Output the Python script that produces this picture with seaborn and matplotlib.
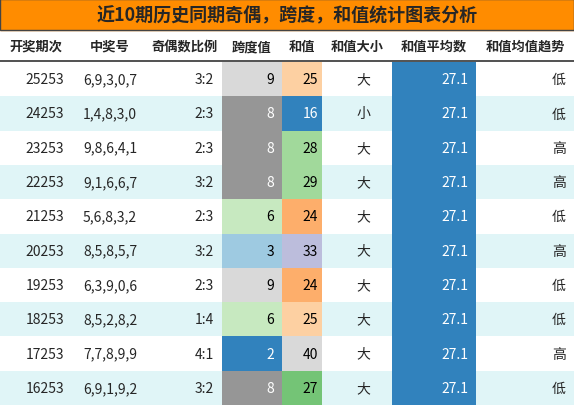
import matplotlib.pyplot as plt
import seaborn as sns
from matplotlib.patches import Rectangle

sns.set_theme(style="white")
plt.rcParams['font.family'] = ['Noto Sans CJK SC', 'DejaVu Sans']

# data
title = "近10期历史同期奇偶，跨度，和值统计图表分析"
headers = ["开奖期次", "中奖号", "奇偶数比例", "跨度值", "和值", "和值大小", "和值平均数", "和值均值趋势"]
issues = ["25253", "24253", "23253", "22253", "21253", "20253", "19253", "18253", "17253", "16253"]
numbers = ["6,9,3,0,7", "1,4,8,3,0", "9,8,6,4,1", "9,1,6,6,7", "5,6,8,3,2",
           "8,5,8,5,7", "6,3,9,0,6", "8,5,2,8,2", "7,7,8,9,9", "6,9,1,9,2"]
odd_even = ["3:2", "2:3", "2:3", "3:2", "2:3", "3:2", "2:3", "1:4", "4:1", "3:2"]
spans = [9, 8, 8, 8, 6, 3, 9, 6, 2, 8]
sums = [25, 16, 28, 29, 24, 33, 24, 25, 40, 27]
sizes = ["大", "小", "大", "大", "大", "大", "大", "大", "大", "大"]
avg = 27.1
trend = ["低", "低", "高", "高", "低", "高", "低", "低", "高", "低"]

span_colors = {9: "#d9d9d9", 8: "#969696", 6: "#c7e9c0", 3: "#9ecae1", 2: "#3182bd"}
sum_colors = {25: "#fdd0a2", 16: "#3182bd", 28: "#a1d99b", 29: "#a1d99b", 24: "#fdae6b",
              33: "#bcbddc", 40: "#d9d9d9", 27: "#74c476"}
dark = {"#969696", "#3182bd"}

W, H = 574, 406
fig = plt.figure(figsize=(W / 100, H / 100), dpi=100)
ax = fig.add_axes([0, 0, 1, 1])
ax.set_xlim(0, W)
ax.set_ylim(H, 0)
ax.axis("off")

col_x = [0, 72, 148, 222, 282, 322, 392, 476, 574]
title_h, head_h = 31, 32
row_h = (H - title_h - head_h) / len(issues)

ax.add_patch(Rectangle((0, 0), W, title_h, color="#ff8c00"))
ax.add_patch(Rectangle((0, 0), W, title_h, fill=False, ec="#444444", lw=1))
ax.text(W / 2, title_h / 2, title, ha="center", va="center", fontsize=13, fontweight="bold")

for i, h in enumerate(headers):
    ax.text((col_x[i] + col_x[i + 1]) / 2, title_h + head_h / 2, h, ha="center", va="center",
            fontsize=9.5, fontweight="bold")
ax.plot([0, W], [title_h + head_h - 1] * 2, color="#333333", lw=1.2)

for r in range(len(issues)):
    y0 = title_h + head_h + r * row_h
    yc = y0 + row_h / 2
    bg = "#ffffff" if r % 2 == 0 else "#e0f5f7"
    ax.add_patch(Rectangle((0, y0), W, row_h, color=bg, lw=0))
    sc = span_colors[spans[r]]
    mc = sum_colors[sums[r]]
    ax.add_patch(Rectangle((col_x[3], y0), col_x[4] - col_x[3], row_h, color=sc, lw=0))
    ax.add_patch(Rectangle((col_x[4], y0), col_x[5] - col_x[4], row_h, color=mc, lw=0))
    ax.add_patch(Rectangle((col_x[6], y0), col_x[7] - col_x[6], row_h, color="#3182bd", lw=0))
    fs = 10
    ax.text(col_x[1] - 8, yc, issues[r], ha="right", va="center", fontsize=fs)
    ax.text((col_x[1] + col_x[2]) / 2, yc, numbers[r], ha="center", va="center", fontsize=fs)
    ax.text(col_x[3] - 8, yc, odd_even[r], ha="right", va="center", fontsize=fs)
    ax.text(col_x[4] - 8, yc, str(spans[r]), ha="right", va="center", fontsize=fs,
            color="white" if sc in dark else "black")
    ax.text(col_x[5] - 4, yc, str(sums[r]), ha="right", va="center", fontsize=fs,
            color="white" if mc in dark else "black")
    ax.text(col_x[6] - 22, yc, sizes[r], ha="right", va="center", fontsize=fs)
    ax.text(col_x[7] - 8, yc, f"{avg}", ha="right", va="center", fontsize=fs, color="white")
    ax.text(col_x[8] - 8, yc, trend[r], ha="right", va="center", fontsize=fs)

fig.savefig("out.png", dpi=100)
